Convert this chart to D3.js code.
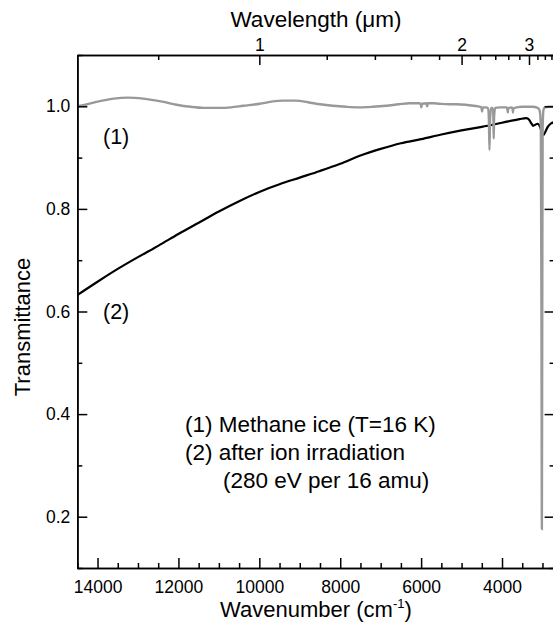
<!DOCTYPE html>
<html>
<head>
<meta charset="utf-8">
<script src="https://d3js.org/d3.v7.min.js"></script>
<style>
  body { margin: 0; background: #fff; }
  svg text { font-family: "Liberation Sans", Arial, sans-serif; fill: #000; }
</style>
</head>
<body>
<div id="chart"></div>
<script>
// (1) methane ice, T=16 K  (wavenumber cm-1, transmittance)
var wnMethane = [14500, 14250, 14000, 13600, 13250, 12870, 12400, 12047, 11700, 11387,
  11000, 10700, 10400, 9988, 9700, 9409, 9100, 8800, 8500, 8183,
  7850, 7523, 7200, 6863, 6550, 6287, 6060, 6010, 5995, 5980,
  5870, 5850, 5835, 5700, 5545, 5300, 5132, 4900, 4700, 4540,
  4510, 4495, 4470, 4400, 4345, 4325, 4310, 4295, 4270, 4230,
  4215, 4205, 4195, 4170, 4050, 3880, 3865, 3855, 3845, 3760,
  3740, 3730, 3720, 3500, 3250, 3120, 3070, 3040, 3025, 3015,
  3005, 2995, 2975, 2940, 2850, 2700]
var tMethane = [1.000, 1.004, 1.009, 1.015, 1.017, 1.015, 1.009, 1.003, 0.999, 0.997,
  0.997, 0.998, 1.001, 1.005, 1.009, 1.011, 1.011, 1.008, 1.004, 1.001,
  0.999, 0.998, 0.999, 1.001, 1.004, 1.006, 1.006, 1.005, 0.998, 1.005,
  1.006, 1.000, 1.006, 1.006, 1.005, 1.004, 1.004, 1.003, 1.001, 0.999,
  0.998, 0.990, 0.998, 0.998, 0.996, 0.975, 0.915, 0.975, 0.997, 0.997,
  0.980, 0.937, 0.980, 0.997, 0.998, 0.998, 0.993, 0.988, 0.996, 0.998,
  0.996, 0.988, 0.996, 0.999, 0.999, 0.997, 0.992, 0.960, 0.600, 0.176,
  0.600, 0.960, 0.993, 0.998, 0.999, 0.999]

// (2) after ion irradiation
var wnIrradiated = [14500, 14000, 13500, 13000, 12500, 12000, 11500, 11000, 10500, 10000,
  9500, 9000, 8500, 8000, 7500, 7000, 6500, 6000, 5500, 5000,
  4500, 4000, 3567, 3400, 3330, 3270, 3230, 3180, 3120, 3060,
  3010, 2980, 2930, 2870, 2800, 2720]
var tIrradiated = [0.632, 0.658, 0.683, 0.706, 0.728, 0.751, 0.773, 0.795, 0.815, 0.833,
  0.848, 0.861, 0.874, 0.888, 0.904, 0.917, 0.928, 0.936, 0.945, 0.953,
  0.960, 0.968, 0.975, 0.977, 0.974, 0.966, 0.962, 0.964, 0.966, 0.960,
  0.948, 0.944, 0.950, 0.960, 0.966, 0.969]

// ticks
var yMajorTicks = [0.2, 0.4, 0.6, 0.8, 1.0]
var yMinorTicks = [0.1, 0.3, 0.5, 0.7, 0.9, 1.1]
var xMajorTicks = [14000, 12000, 10000, 8000, 6000, 4000]
var xMinorTicks = [14500, 13500, 13000, 12500, 11500, 11000, 10500, 9500, 9000, 8500,
  7500, 7000, 6500, 5500, 5000, 4500, 3500, 3000]
var wlMajorTicks = [1, 2, 3]
var wlMinorTicks = [0.8, 1.2, 1.4, 1.6, 1.8, 2.2, 2.4, 2.6, 2.8, 3.2, 3.4, 3.6]

var legendLines = ["(1) Methane ice (T=16 K)", "(2) after ion irradiation", "(280 eV per 16 amu)"]

var W = 553, H = 622
var mLeft = 77.3, mRight = 554.6, mTop = 55, mBottom = 568

var svg = d3.select("#chart")
  .append("svg")
    .attr("width", W)
    .attr("height", H)

var x = d3.scaleLinear().domain([14500, 2700]).range([mLeft, mRight])
var y = d3.scaleLinear().domain([0.1, 1.1]).range([mBottom, mTop])

svg.append("clipPath").attr("id", "clip")
  .append("rect")
    .attr("x", mLeft).attr("y", mTop)
    .attr("width", mRight - mLeft).attr("height", mBottom - mTop)

var line = d3.line()
  .x(d => x(d[0]))
  .y(d => y(d[1]))
  .curve(d3.curveMonotoneX)

var plot = svg.append("g").attr("clip-path", "url(#clip)")

plot.append("path")
  .datum(d3.zip(wnIrradiated, tIrradiated))
  .attr("d", line)
  .attr("fill", "none")
  .attr("stroke", "#000")
  .attr("stroke-width", 2.2)

plot.append("path")
  .datum(d3.zip(wnMethane, tMethane))
  .attr("d", line)
  .attr("fill", "none")
  .attr("stroke", "#999")
  .attr("stroke-width", 2.4)

// axes
function styleAxis(g) {
  g.selectAll("path.domain").attr("stroke", "#000").attr("stroke-width", 1.6)
  g.selectAll(".tick line").attr("stroke", "#000").attr("stroke-width", 1.5)
  g.selectAll("text").attr("font-size", "17.5px").attr("font-family", "Liberation Sans, Arial, sans-serif")
}

// left
svg.append("g")
  .attr("transform", "translate(" + mLeft + ",0)")
  .call(d3.axisLeft(y).tickValues(yMajorTicks).tickFormat(d3.format(".1f"))
    .tickSize(-10).tickSizeOuter(0).tickPadding(7))
  .call(styleAxis)
svg.append("g")
  .attr("transform", "translate(" + mLeft + ",0)")
  .call(d3.axisLeft(y).tickValues(yMinorTicks).tickFormat("").tickSize(-5).tickSizeOuter(0))
  .call(styleAxis)

// right
svg.append("g")
  .attr("transform", "translate(" + mRight + ",0)")
  .call(d3.axisRight(y).tickValues(yMajorTicks).tickFormat("").tickSize(-10).tickSizeOuter(0))
  .call(styleAxis)
svg.append("g")
  .attr("transform", "translate(" + mRight + ",0)")
  .call(d3.axisRight(y).tickValues(yMinorTicks).tickFormat("").tickSize(-5).tickSizeOuter(0))
  .call(styleAxis)

// bottom
svg.append("g")
  .attr("transform", "translate(0," + mBottom + ")")
  .call(d3.axisBottom(x).tickValues(xMajorTicks).tickFormat(d3.format("d"))
    .tickSize(-10).tickSizeOuter(0).tickPadding(13))
  .call(styleAxis)
svg.append("g")
  .attr("transform", "translate(0," + mBottom + ")")
  .call(d3.axisBottom(x).tickValues(xMinorTicks).tickFormat("").tickSize(-5).tickSizeOuter(0))
  .call(styleAxis)

// top: wavelength in micrometres, placed through the wavenumber scale
svg.append("g")
  .attr("transform", "translate(0," + mTop + ")")
  .call(d3.axisTop(x).tickValues(wlMajorTicks.map(w => 10000 / w))
    .tickFormat(d => Math.round(10000 / d)).tickSize(-10).tickSizeOuter(0).tickPadding(4))
  .call(styleAxis)
svg.append("g")
  .attr("transform", "translate(0," + mTop + ")")
  .call(d3.axisTop(x).tickValues(wlMinorTicks.map(w => 10000 / w))
    .tickFormat("").tickSize(-5).tickSizeOuter(0))
  .call(styleAxis)

// titles
var cx = (mLeft + mRight) / 2
svg.append("text")
  .attr("x", cx).attr("y", 27)
  .attr("text-anchor", "middle")
  .attr("font-size", "22.5px")
  .text("Wavelength (\u03bcm)")

var xt = svg.append("text")
  .attr("x", cx).attr("y", 617)
  .attr("text-anchor", "middle")
  .attr("font-size", "22px")
xt.append("tspan").text("Wavenumber (cm")
xt.append("tspan").attr("font-size", "13px").attr("dy", "-9").text("-1")
xt.append("tspan").attr("dy", "9").text(")")

svg.append("text")
  .attr("transform", "translate(30,327) rotate(-90)")
  .attr("text-anchor", "middle")
  .attr("font-size", "22px")
  .text("Transmittance")

// curve labels
svg.append("text").attr("x", 103).attr("y", 144).attr("font-size", "21.5px").text("(1)")
svg.append("text").attr("x", 103).attr("y", 319).attr("font-size", "21.5px").text("(2)")

// legend text
var legendX = [185, 185, 223]
var legendY = [432, 460, 488]
svg.append("g").selectAll("text")
  .data(legendLines)
  .enter()
  .append("text")
    .attr("x", (d, i) => legendX[i])
    .attr("y", (d, i) => legendY[i])
    .attr("font-size", "22.5px")
    .text(d => d)
</script>
</body>
</html>
